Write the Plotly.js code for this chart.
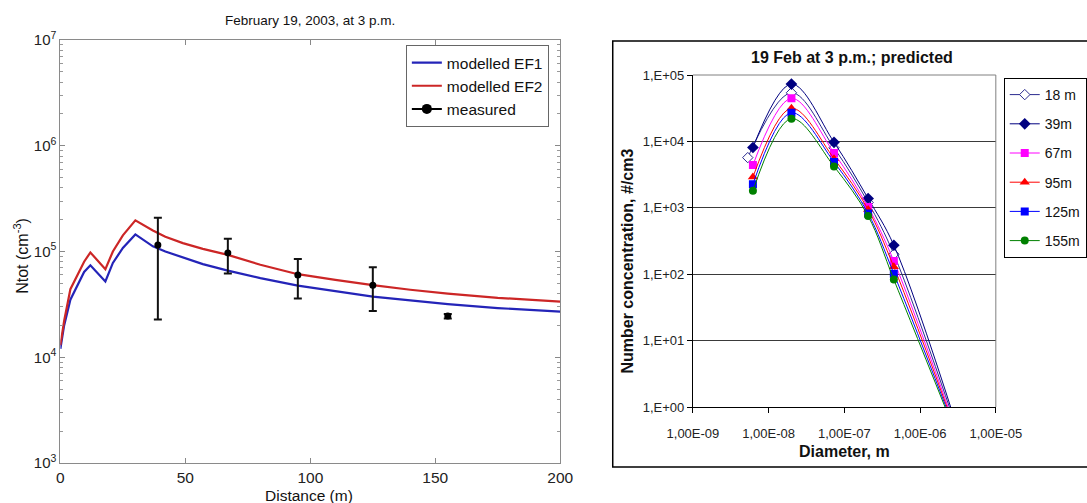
<!DOCTYPE html>
<html>
<head>
<meta charset="utf-8">
<script src="https://cdn.plot.ly/plotly-3.0.1.min.js"></script>
<style>html,body{margin:0;padding:0;background:#fff;}#chart{width:1087px;height:503px;}</style>
</head>
<body>
<div id="chart"></div>
<script>
// ---- Left chart data: Ntot vs distance ----
const distance = [0, 1.5, 4, 7, 9.5, 12, 18, 21, 25, 30, 33, 37, 42, 49, 57, 67, 80, 95, 110, 125, 140, 155, 175, 200];
const ef1 = [1.2e4, 2.0e4, 3.5e4, 4.8e4, 6.4e4, 7.4e4, 5.2e4, 7.8e4, 1.08e5, 1.45e5, 1.3e5, 1.12e5, 1.0e5, 8.8e4, 7.6e4, 6.6e4, 5.6e4, 4.75e4, 4.2e4, 3.75e4, 3.45e4, 3.18e4, 2.92e4, 2.7e4];
const ef2 = [1.3e4, 2.2e4, 4.4e4, 6.0e4, 8.0e4, 9.8e4, 6.8e4, 1.0e5, 1.42e5, 1.97e5, 1.78e5, 1.58e5, 1.38e5, 1.2e5, 1.06e5, 9.3e4, 7.5e4, 6.1e4, 5.4e4, 4.8e4, 4.35e4, 4.0e4, 3.65e4, 3.36e4];
const measDist = [39, 67, 95, 125, 155];
const measVal = [1.15e5, 9.7e4, 6.0e4, 4.8e4, 2.45e4];
const measErrPlus = [9.3e4, 3.5e4, 2.5e4, 2.3e4, 1.2e3];
const measErrMinus = [9.22e4, 3.5e4, 2.4e4, 2.06e4, 1.2e3];
const leftYTicks = [1e3, 1e4, 1e5, 1e6, 1e7];
const leftYLabels = ['10<sup>3</sup>', '10<sup>4</sup>', '10<sup>5</sup>', '10<sup>6</sup>', '10<sup>7</sup>'];
const leftXTicks = [0, 50, 100, 150, 200];

// ---- Right chart data: number concentration vs diameter ----
const diam18 = [5.3e-9, 2.0e-8, 7.3e-8, 2.06e-7, 4.5e-7, 3e-6];
const diam = [6.2e-9, 2.0e-8, 7.3e-8, 2.06e-7, 4.5e-7, 3e-6];
const n18 = [5.7e3, 5.4e4, 8.0e3, 1.2e3, 2.0e2, 0.5];
const n39 = [8.1e3, 7.3e4, 9.7e3, 1.38e3, 2.73e2, 0.55];
const n67 = [4.4e3, 4.45e4, 6.7e3, 1.03e3, 1.58e2, 0.45];
const n95 = [2.9e3, 3.15e4, 5.5e3, 9.4e2, 1.29e2, 0.42];
const n125 = [2.27e3, 2.7e4, 4.9e3, 8.2e2, 1.02e2, 0.4];
const n155 = [1.8e3, 2.2e4, 4.2e3, 7.5e2, 83, 0.38];
const rightYTicks = [1, 10, 100, 1e3, 1e4, 1e5];
const rightYLabels = ['1,E+00', '1,E+01', '1,E+02', '1,E+03', '1,E+04', '1,E+05'];
const rightXTicks = [1e-9, 1e-8, 1e-7, 1e-6, 1e-5];
const rightXLabels = ['1,00E-09', '1,00E-08', '1,00E-07', '1,00E-06', '1,00E-05'];

const FONT = 'Liberation Sans, Arial, Helvetica, sans-serif';
const W = 1087, H = 503;
const px = v => v / W;
const py = v => 1 - v / H;

const traces = [
  {x: distance, y: ef1, mode: 'lines', name: 'modelled EF1', line: {color: '#2424b8', width: 2.2}, xaxis: 'x', yaxis: 'y', legend: 'legend'},
  {x: distance, y: ef2, mode: 'lines', name: 'modelled EF2', line: {color: '#cc2626', width: 2.2}, xaxis: 'x', yaxis: 'y', legend: 'legend'},
  {x: measDist, y: measVal, mode: 'markers', name: 'measured', showlegend: false,
   marker: {color: '#000', size: 7, symbol: 'circle'},
   error_y: {type: 'data', symmetric: false, array: measErrPlus, arrayminus: measErrMinus, color: '#111', thickness: 2, width: 4},
   xaxis: 'x', yaxis: 'y', legend: 'legend'},
  {x: [null], y: [null], mode: 'lines+markers', name: 'measured', line: {color: '#000', width: 2}, marker: {color: '#000', size: 10}, xaxis: 'x', yaxis: 'y', legend: 'legend'}
];

const rs = [
  {name: '18 m', x: diam18, y: n18, color: '#2b2b8f', symbol: 'diamond-open', mcolor: '#2b2b8f', size: 8},
  {name: '39m', x: diam, y: n39, color: '#000080', symbol: 'diamond', mcolor: '#000080', size: 9},
  {name: '67m', x: diam, y: n67, color: '#ff00ff', symbol: 'square', mcolor: '#ff00ff', size: 8},
  {name: '95m', x: diam, y: n95, color: '#ff0000', symbol: 'triangle-up', mcolor: '#ff0000', size: 9},
  {name: '125m', x: diam, y: n125, color: '#0000ff', symbol: 'square', mcolor: '#0000ff', size: 8},
  {name: '155m', x: diam, y: n155, color: '#008000', symbol: 'circle', mcolor: '#008000', size: 8}
];
rs.forEach((s, i) => {
  const open = s.symbol.indexOf('open') >= 0;
  traces.push({
    x: s.x, y: s.y, name: s.name, mode: 'lines+markers',
    line: {color: s.color, width: 1, shape: 'spline', smoothing: 1},
    marker: {color: open ? '#ffffff' : s.mcolor, symbol: s.symbol.replace('-open', ''), size: s.size,
             line: {color: s.mcolor, width: open ? 1 : 0}},
    xaxis: 'x2', yaxis: 'y2', legend: 'legend2', legendgroup: 'g' + i
  });
});

const ann = (text, x, y, size, extra) => Object.assign({
  text: text, xref: 'paper', yref: 'paper', x: px(x), y: py(y), xanchor: 'center', yanchor: 'middle',
  showarrow: false, font: {size: size, family: FONT, color: '#111'}
}, extra || {});

const layout = {
  width: W, height: H,
  margin: {l: 0, r: 0, t: 0, b: 0},
  paper_bgcolor: '#fff', plot_bgcolor: '#fff',
  font: {family: FONT, color: '#111'},
  showlegend: true,
  xaxis: {domain: [px(61), px(566)], anchor: 'y', range: [0, 200], tickvals: leftXTicks,
          ticks: 'inside', ticklen: 5, tickcolor: '#888', mirror: 'ticks', showline: true, linecolor: '#8a8a8a', linewidth: 1,
          showgrid: false, zeroline: false, tickfont: {size: 15.5, family: FONT, color: '#222'}, ticklabelstandoff: 0},
  yaxis: {domain: [py(463), py(40)], anchor: 'x', type: 'log', range: [3, 7], tickvals: leftYTicks, ticktext: leftYLabels,
          ticks: 'inside', ticklen: 5, tickcolor: '#888', mirror: 'ticks', showline: true, linecolor: '#8a8a8a', linewidth: 1,
          showgrid: false, zeroline: false, tickfont: {size: 15, family: FONT, color: '#222'},
          minor: {ticks: 'inside', ticklen: 3, tickcolor: '#999', dtick: 'D1', showgrid: false}},
  xaxis2: {domain: [px(700), px(1006)], anchor: 'y2', type: 'log', range: [-9, -5], tickvals: rightXTicks, ticktext: rightXLabels,
           ticks: 'outside', ticklen: 5, tickcolor: '#000', showline: true, linecolor: '#000', linewidth: 1,
           showgrid: false, zeroline: false, tickfont: {size: 13, family: FONT, color: '#222'}, ticklabelstandoff: 9},
  yaxis2: {domain: [py(407), py(75)], anchor: 'x2', type: 'log', range: [0, 5], tickvals: rightYTicks, ticktext: rightYLabels,
           ticks: 'outside', ticklen: 5, tickcolor: '#000', showline: true, linecolor: '#000', linewidth: 1,
           showgrid: true, gridcolor: '#3a3a3a', gridwidth: 1, zeroline: false, tickfont: {size: 13, family: FONT, color: '#222'}},
  legend: {x: px(410), y: py(45), xanchor: 'left', yanchor: 'top', bgcolor: '#fff', bordercolor: '#666', borderwidth: 1,
           font: {size: 15.5, family: FONT, color: '#111'}, itemwidth: 30, tracegroupgap: 0},
  legend2: {x: px(1014), y: py(78), xanchor: 'left', yanchor: 'top', bgcolor: '#fff', bordercolor: '#000', borderwidth: 1,
            font: {size: 14, family: FONT, color: '#111'}, itemwidth: 30, traceorder: 'grouped', tracegroupgap: 8},
  shapes: [
    {type: 'rect', xref: 'paper', yref: 'paper', x0: px(619), x1: 1.02, y0: py(467), y1: py(41), line: {color: '#000', width: 1.5}, layer: 'below'},
    {type: 'line', xref: 'paper', yref: 'paper', x0: px(700), x1: px(1006), y0: py(75), y1: py(75), line: {color: '#808080', width: 1}},
    {type: 'line', xref: 'paper', yref: 'paper', x0: px(1006), x1: px(1006), y0: py(407), y1: py(75), line: {color: '#808080', width: 1}}
  ],
  annotations: [
    ann('February 19, 2003, at 3 p.m.', 313, 21, 13.5),
    ann('Distance (m)', 312, 495, 15.5),
    ann('Ntot (cm<sup>-3</sup>)', 21, 256, 16, {textangle: -90}),
    ann('<b>19 Feb at 3 p.m.; predicted</b>', 861, 57, 16),
    ann('<b>Number concentration, #/cm3</b>', 633, 261, 16, {textangle: -90}),
    ann('<b>Diameter, m</b>', 853, 451, 16)
  ]
};

Plotly.newPlot('chart', traces, layout, {displayModeBar: false, staticPlot: true});
</script>
</body>
</html>
